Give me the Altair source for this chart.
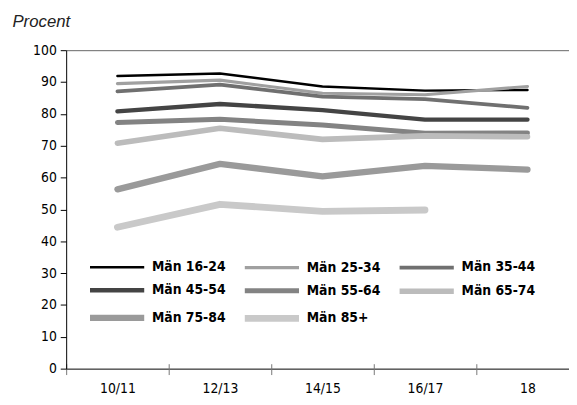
import altair as alt
import pandas as pd

periods = ["10/11", "12/13", "14/15", "16/17", "18"]
series = ["Män 16-24", "Män 25-34", "Män 35-44", "Män 45-54",
          "Män 55-64", "Män 65-74", "Män 75-84", "Män 85+"]
v_16_24 = [91.9, 92.7, 88.6, 87.3, 87.5]
v_25_34 = [89.5, 90.6, 86.5, 86.0, 88.6]
v_35_44 = [87.1, 89.2, 85.4, 84.6, 81.9]
v_45_54 = [80.8, 83.1, 81.2, 78.2, 78.2]
v_55_64 = [77.3, 78.3, 76.5, 73.9, 74.0]
v_65_74 = [70.8, 75.5, 72.0, 73.1, 72.8]
v_75_84 = [56.3, 64.3, 60.4, 63.7, 62.5]
v_85 = [44.4, 51.6, 49.4, 49.8, None]
colors = ["#000000", "#a0a0a0", "#707070", "#444444",
          "#838383", "#bcbcbc", "#9a9a9a", "#c9c9c9"]
widths = [2.5, 7, 7, 7, 7, 7, 7, 7]

all_vals = [v_16_24, v_25_34, v_35_44, v_45_54, v_55_64, v_65_74, v_75_84, v_85]
rows = []
for s, vals in zip(series, all_vals):
    for i, v in enumerate(vals):
        if v is not None:
            rows.append({"i": i, "period": periods[i], "serie": s, "value": v})
df = pd.DataFrame(rows)

NARROW = "'Liberation Sans Narrow', 'DejaVu Sans Condensed', 'Roboto Condensed', sans-serif"
label_expr = "[" + ",".join("'" + p + "'" for p in periods) + "][datum.value]"
xscale = alt.Scale(domain=[-0.5, 4.405], nice=False, zero=False)

y_enc = alt.Y("value:Q",
              scale=alt.Scale(domain=[0, 100], nice=False),
              axis=alt.Axis(values=list(range(0, 101, 10)), grid=False,
                            tickSize=6, tickColor="#000", domainColor="#000",
                            labelFont=NARROW, labelFontSize=14, labelColor="#000",
                            labelPadding=4,
                            title="Procent", titleAngle=0, titleX=-55, titleY=-24,
                            titleAlign="left", titleBaseline="alphabetic",
                            titleFont="Liberation Sans", titleFontSize=17,
                            titleFontStyle="italic", titleFontWeight="normal",
                            titleColor="#222"))


def make_legend():
    return alt.Legend(title=None, orient="none", legendX=57, legendY=205,
                      direction="horizontal", columns=3,
                      symbolType="M-5,0H1", symbolSize=336,
                      gridAlign="all", columnPadding=5, rowPadding=-2,
                      labelFont=NARROW, labelFontSize=14,
                      labelFontWeight="bold", labelColor="#000",
                      labelOffset=4)


lines = alt.Chart(df).mark_line(strokeCap="round", strokeJoin="round").encode(
    x=alt.X("i:Q", scale=xscale,
            axis=alt.Axis(orient="bottom", values=[0, 1, 2, 3, 4], labelExpr=label_expr,
                          ticks=False, grid=False, domainColor="#000",
                          labelFont=NARROW, labelFontSize=14, labelColor="#000",
                          labelPadding=13, title=None)),
    y=y_enc,
    color=alt.Color("serie:N", scale=alt.Scale(domain=series, range=colors),
                    legend=make_legend()),
    strokeWidth=alt.StrokeWidth("serie:N", scale=alt.Scale(domain=series, range=widths),
                                legend=make_legend()),
    detail="serie:N",
)

ticks = alt.Chart(df).mark_point(opacity=0).encode(
    x=alt.X("i:Q", scale=xscale,
            axis=alt.Axis(orient="bottom", values=[-0.5, 0.5, 1.5, 2.5, 3.5],
                          labels=False, domain=False, grid=False, tickSize=11,
                          tickColor="#777", offset=-5, title=None)),
    y=y_enc,
)

top = alt.Chart(df).mark_point(opacity=0).encode(
    x=alt.X("i:Q", scale=xscale,
            axis=alt.Axis(orient="top", values=[], labels=False, ticks=False,
                          grid=False, domainColor="#666", title=None)),
    y=y_enc,
)

chart = alt.layer(lines, ticks, top).resolve_axis(x="independent").properties(
    width=510, height=323,
    autosize=alt.AutoSizeParams(type="none"),
    padding={"left": 59, "top": 40, "right": 0, "bottom": 28},
).configure_view(stroke=None)

chart.save("out.html", embed_options={"renderer": "svg", "actions": False})
